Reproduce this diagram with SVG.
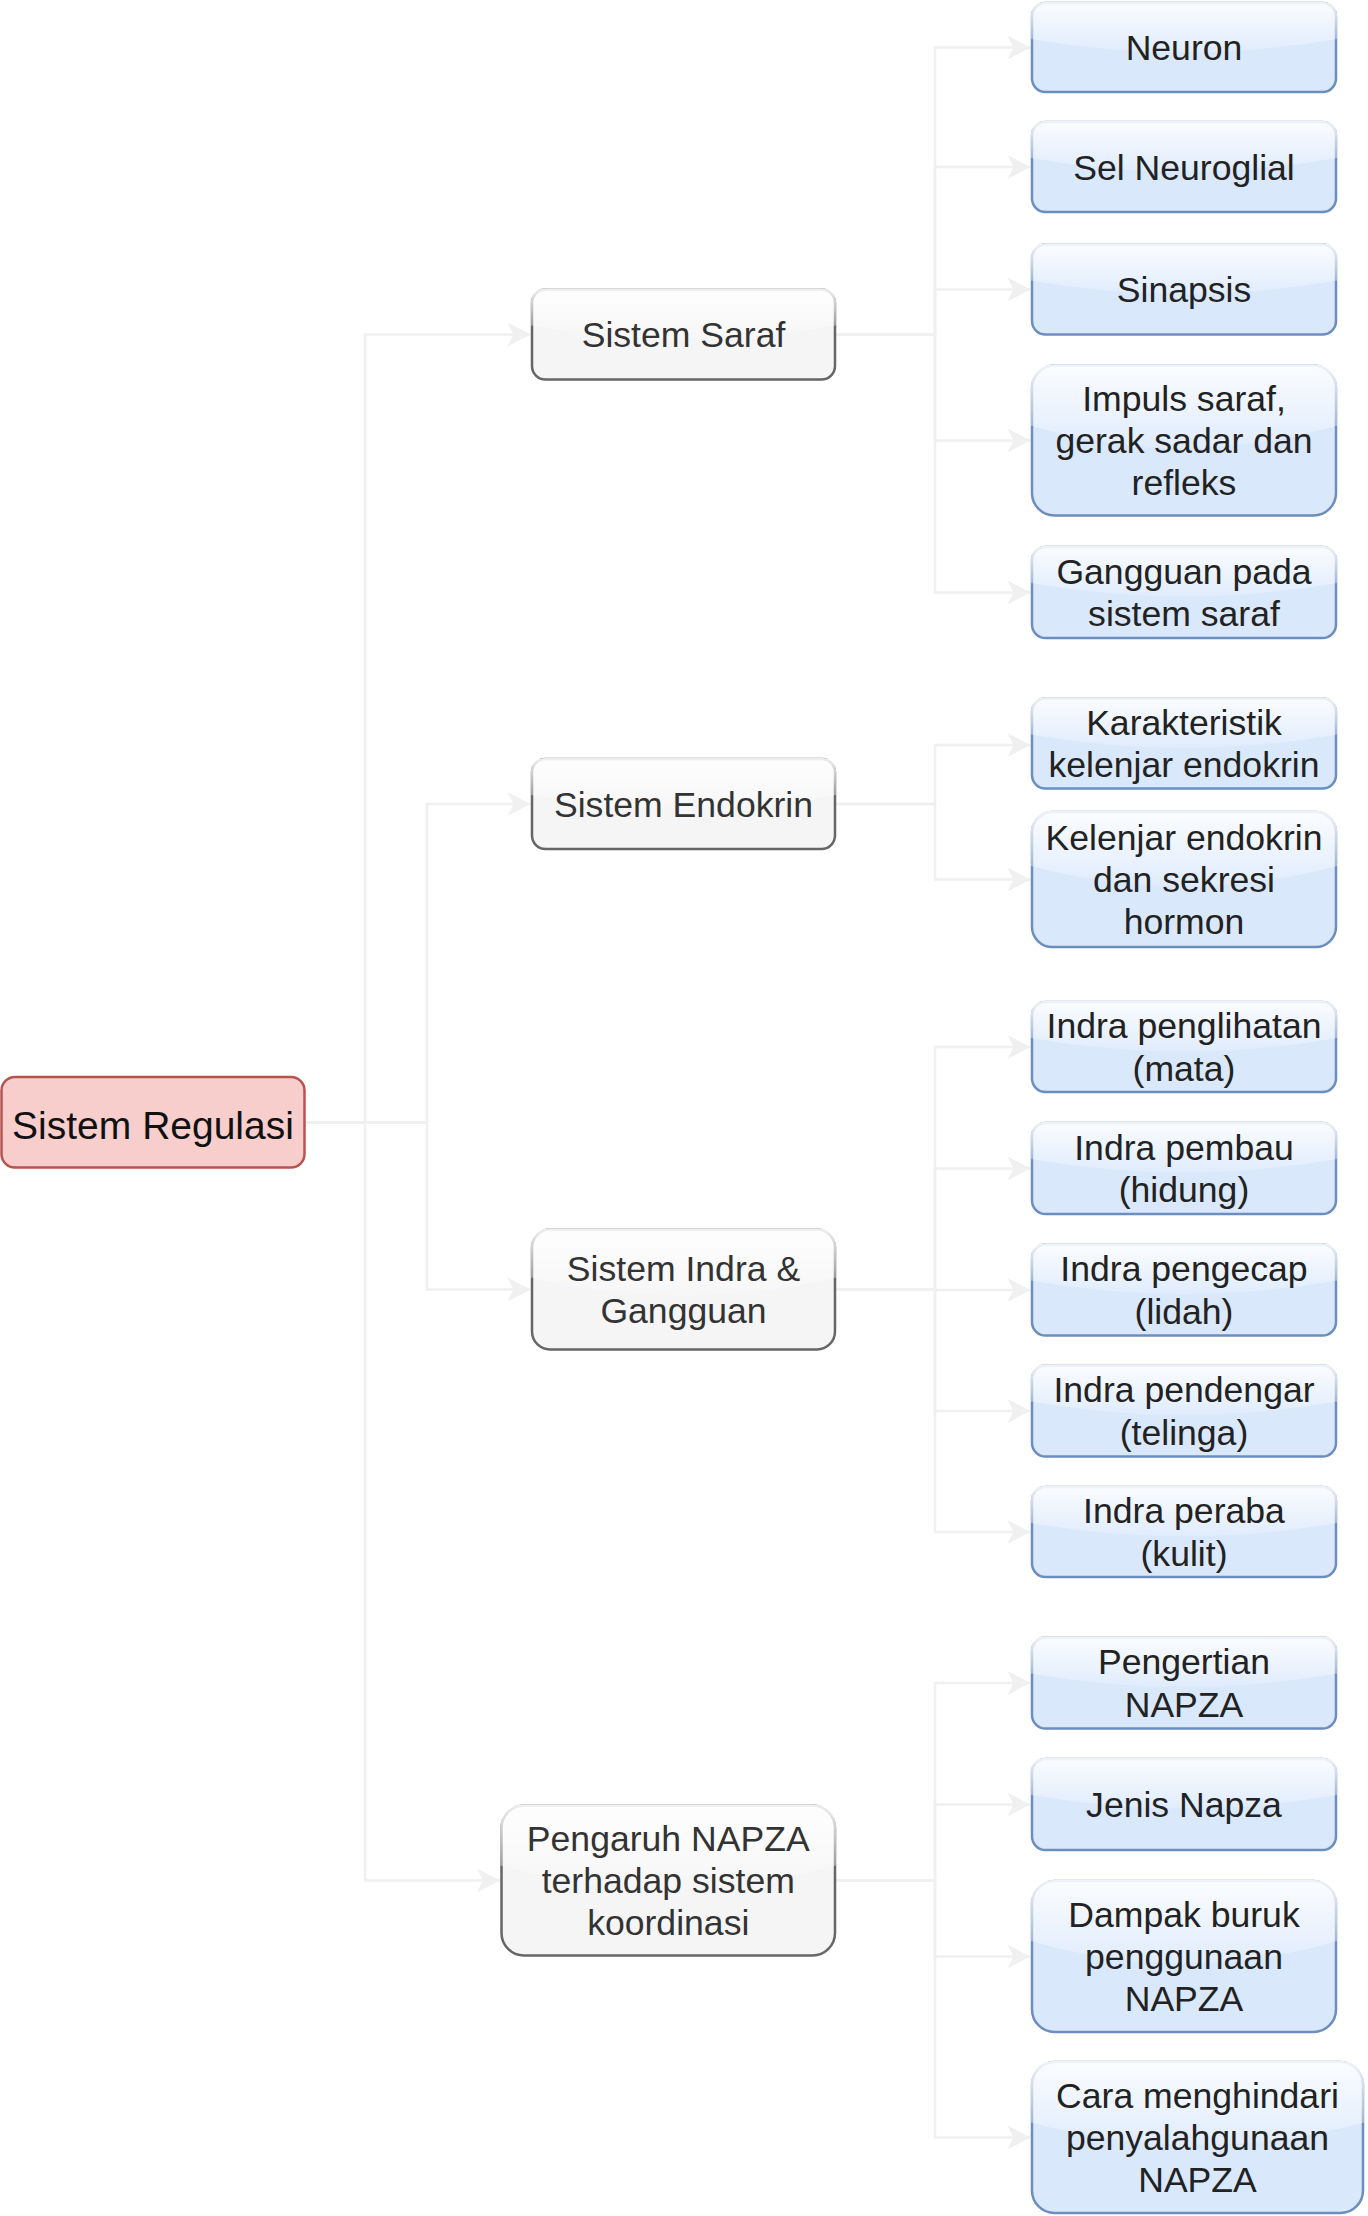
<svg xmlns="http://www.w3.org/2000/svg" width="1368" height="2216" viewBox="0 0 1368 2216">
<style>
  .blue{fill:#dae8fc;stroke:#6c8ebf;stroke-width:2.5}
  .gray{fill:#f5f5f5;stroke:#666666;stroke-width:2.5}
  .root{fill:#f8cecc;stroke:#b85450;stroke-width:2.5}
  .glass{fill:url(#glassGrad)}
  .t{font-family:"Liberation Sans",Arial,Helvetica,sans-serif;font-size:35.6px;text-anchor:middle;fill:#222222}
  .tg{fill:#333333}
  .tr{font-size:39px;fill:#111111}
  .edge{fill:none;stroke:#f0f0f0;stroke-width:2.5;marker-end:url(#arr)}
</style>
<defs>
  <linearGradient id="glassGrad" x1="0" y1="0" x2="0" y2="1.09">
    <stop offset="0" stop-color="#ffffff" stop-opacity="0.9"/>
    <stop offset="1" stop-color="#ffffff" stop-opacity="0.1"/>
  </linearGradient>
  <marker id="arr" markerUnits="userSpaceOnUse" viewBox="0 0 26 26" markerWidth="26" markerHeight="26" refX="24" refY="13" orient="auto">
    <path d="M24,13 L1,1 L7,13 L1,25 Z" fill="#f0f0f0"/>
  </marker>
  <path id="gb90" class="glass" d="M14.75,-1.25 Q-1.25,-1.25 -1.25,14.75 L-1.25,36 Q152,63 305.25,36 L305.25,14.75 Q305.25,-1.25 289.25,-1.25 Z"/>
  <path id="gb150" class="glass" d="M23.75,-1.25 Q-1.25,-1.25 -1.25,23.75 L-1.25,60 Q152,105 305.25,60 L305.25,23.75 Q305.25,-1.25 280.25,-1.25 Z"/>
  <path id="gb135" class="glass" d="M21.5,-1.25 Q-1.25,-1.25 -1.25,21.5 L-1.25,54 Q152,94.5 305.25,54 L305.25,21.5 Q305.25,-1.25 282.5,-1.25 Z"/>
  <path id="gcara" class="glass" d="M23.9,-1.25 Q-1.25,-1.25 -1.25,23.9 L-1.25,60.4 Q165.5,105.7 332.25,60.4 L332.25,23.9 Q332.25,-1.25 307.1,-1.25 Z"/>
  <path id="gg90" class="glass" d="M14.75,-1.25 Q-1.25,-1.25 -1.25,14.75 L-1.25,36 Q151.5,63 304.25,36 L304.25,14.75 Q304.25,-1.25 288.25,-1.25 Z"/>
  <path id="gg120" class="glass" d="M19.25,-1.25 Q-1.25,-1.25 -1.25,19.25 L-1.25,48 Q151.5,84 304.25,48 L304.25,19.25 Q304.25,-1.25 283.75,-1.25 Z"/>
  <path id="gnapza" class="glass" d="M23.75,-1.25 Q-1.25,-1.25 -1.25,23.75 L-1.25,60 Q166.75,105 334.75,60 L334.75,23.75 Q334.75,-1.25 309.75,-1.25 Z"/>
</defs>
<rect width="1368" height="2216" fill="#ffffff"/>

<g id="connectors">
  <path class="edge" d="M305,1122.5 H365 V334.5 H530.5"/>
  <path class="edge" d="M305,1122.5 H427 V804 H530.5"/>
  <path class="edge" d="M305,1122.5 H427 V1289.5 H530.5"/>
  <path class="edge" d="M305,1122.5 H365 V1880.5 H500"/>

  <path class="edge" d="M835,334.5 H935 V47.5 H1030.5"/>
  <path class="edge" d="M835,334.5 H935 V167 H1030.5"/>
  <path class="edge" d="M835,334.5 H935 V289.5 H1030.5"/>
  <path class="edge" d="M835,334.5 H935 V440.5 H1030.5"/>
  <path class="edge" d="M835,334.5 H935 V592.5 H1030.5"/>

  <path class="edge" d="M835,804 H935 V745 H1030.5"/>
  <path class="edge" d="M835,804 H935 V879.5 H1030.5"/>

  <path class="edge" d="M835,1289.5 H935 V1047 H1030.5"/>
  <path class="edge" d="M835,1289.5 H935 V1168.5 H1030.5"/>
  <path class="edge" d="M835,1289.5 H935 V1290 H1030.5"/>
  <path class="edge" d="M835,1289.5 H935 V1411 H1030.5"/>
  <path class="edge" d="M835,1289.5 H935 V1532 H1030.5"/>

  <path class="edge" d="M835,1880.5 H935 V1683 H1030.5"/>
  <path class="edge" d="M835,1880.5 H935 V1804.5 H1030.5"/>
  <path class="edge" d="M835,1880.5 H935 V1956.5 H1030.5"/>
  <path class="edge" d="M835,1880.5 H935 V2137.5 H1030.5"/>
</g>

<g id="n-sistem-regulasi" transform="translate(1.5,1077)">
  <rect class="root" width="303" height="90.5" rx="13.5"/>
  <text class="t tr" x="151.5" y="61.5">Sistem Regulasi</text>
</g>

<g id="n-sistem-saraf" transform="translate(532,289.5)">
  <rect class="gray" width="303" height="90" rx="13.5"/>
  <use href="#gg90"/>
  <text class="t tg" x="151.5" y="57.5">Sistem Saraf</text>
</g>
<g id="n-sistem-endokrin" transform="translate(532,759)">
  <rect class="gray" width="303" height="90" rx="13.5"/>
  <use href="#gg90"/>
  <text class="t tg" x="151.5" y="57.5">Sistem Endokrin</text>
</g>
<g id="n-sistem-indra" transform="translate(532,1229.5)">
  <rect class="gray" width="303" height="120" rx="18"/>
  <use href="#gg120"/>
  <text class="t tg" x="151.5" y="51.3">Sistem Indra &amp;</text>
  <text class="t tg" x="151.5" y="93.7">Gangguan</text>
</g>
<g id="n-pengaruh-napza" transform="translate(501.5,1805.5)">
  <rect class="gray" width="333.5" height="150" rx="22.5"/>
  <use href="#gnapza"/>
  <text class="t tg" x="166.75" y="45.1">Pengaruh NAPZA</text>
  <text class="t tg" x="166.75" y="87.5">terhadap sistem</text>
  <text class="t tg" x="166.75" y="129.9">koordinasi</text>
</g>

<g id="n-neuron" transform="translate(1032,3)">
  <rect class="blue" width="304" height="89" rx="13.4"/>
  <use href="#gb90"/>
  <text class="t" x="152" y="57">Neuron</text>
</g>
<g id="n-sel-neuroglial" transform="translate(1032,122)">
  <rect class="blue" width="304" height="90" rx="13.5"/>
  <use href="#gb90"/>
  <text class="t" x="152" y="57.5">Sel Neuroglial</text>
</g>
<g id="n-sinapsis" transform="translate(1032,244.5)">
  <rect class="blue" width="304" height="90" rx="13.5"/>
  <use href="#gb90"/>
  <text class="t" x="152" y="57.5">Sinapsis</text>
</g>
<g id="n-impuls" transform="translate(1032,365.5)">
  <rect class="blue" width="304" height="150" rx="22.5"/>
  <use href="#gb150"/>
  <text class="t" x="152" y="45.1">Impuls saraf,</text>
  <text class="t" x="152" y="87.5">gerak sadar dan</text>
  <text class="t" x="152" y="129.9">refleks</text>
</g>
<g id="n-gangguan" transform="translate(1032,547)">
  <rect class="blue" width="304" height="91" rx="13.6"/>
  <use href="#gb90"/>
  <text class="t" x="152" y="36.8">Gangguan pada</text>
  <text class="t" x="152" y="79.2">sistem saraf</text>
</g>

<g id="n-karakteristik" transform="translate(1032,698.5)">
  <rect class="blue" width="304" height="90" rx="13.5"/>
  <use href="#gb90"/>
  <text class="t" x="152" y="36.3">Karakteristik</text>
  <text class="t" x="152" y="78.7">kelenjar endokrin</text>
</g>
<g id="n-kelenjar" transform="translate(1032,812)">
  <rect class="blue" width="304" height="135" rx="20.25"/>
  <use href="#gb135"/>
  <text class="t" x="152" y="37.6">Kelenjar endokrin</text>
  <text class="t" x="152" y="80">dan sekresi</text>
  <text class="t" x="152" y="122.4">hormon</text>
</g>

<g id="n-penglihatan" transform="translate(1032,1002)">
  <rect class="blue" width="304" height="90" rx="13.5"/>
  <use href="#gb90"/>
  <text class="t" x="152" y="36.3">Indra penglihatan</text>
  <text class="t" x="152" y="78.7">(mata)</text>
</g>
<g id="n-pembau" transform="translate(1032,1123)">
  <rect class="blue" width="304" height="91" rx="13.6"/>
  <use href="#gb90"/>
  <text class="t" x="152" y="36.8">Indra pembau</text>
  <text class="t" x="152" y="79.2">(hidung)</text>
</g>
<g id="n-pengecap" transform="translate(1032,1244.5)">
  <rect class="blue" width="304" height="91" rx="13.6"/>
  <use href="#gb90"/>
  <text class="t" x="152" y="36.8">Indra pengecap</text>
  <text class="t" x="152" y="79.2">(lidah)</text>
</g>
<g id="n-pendengar" transform="translate(1032,1365.5)">
  <rect class="blue" width="304" height="91" rx="13.6"/>
  <use href="#gb90"/>
  <text class="t" x="152" y="36.8">Indra pendengar</text>
  <text class="t" x="152" y="79.2">(telinga)</text>
</g>
<g id="n-peraba" transform="translate(1032,1487)">
  <rect class="blue" width="304" height="90" rx="13.5"/>
  <use href="#gb90"/>
  <text class="t" x="152" y="36.3">Indra peraba</text>
  <text class="t" x="152" y="78.7">(kulit)</text>
</g>

<g id="n-pengertian" transform="translate(1032,1637.5)">
  <rect class="blue" width="304" height="91" rx="13.6"/>
  <use href="#gb90"/>
  <text class="t" x="152" y="36.8">Pengertian</text>
  <text class="t" x="152" y="79.2">NAPZA</text>
</g>
<g id="n-jenis" transform="translate(1032,1759)">
  <rect class="blue" width="304" height="91" rx="13.6"/>
  <use href="#gb90"/>
  <text class="t" x="152" y="58">Jenis Napza</text>
</g>
<g id="n-dampak" transform="translate(1032,1881)">
  <rect class="blue" width="304" height="151" rx="22.6"/>
  <use href="#gb150"/>
  <text class="t" x="152" y="45.6">Dampak buruk</text>
  <text class="t" x="152" y="88">penggunaan</text>
  <text class="t" x="152" y="130.4">NAPZA</text>
</g>
<g id="n-cara" transform="translate(1032,2062)">
  <rect class="blue" width="331" height="151" rx="22.6"/>
  <use href="#gcara"/>
  <text class="t" x="165.5" y="45.6">Cara menghindari</text>
  <text class="t" x="165.5" y="88">penyalahgunaan</text>
  <text class="t" x="165.5" y="130.4">NAPZA</text>
</g>
</svg>
